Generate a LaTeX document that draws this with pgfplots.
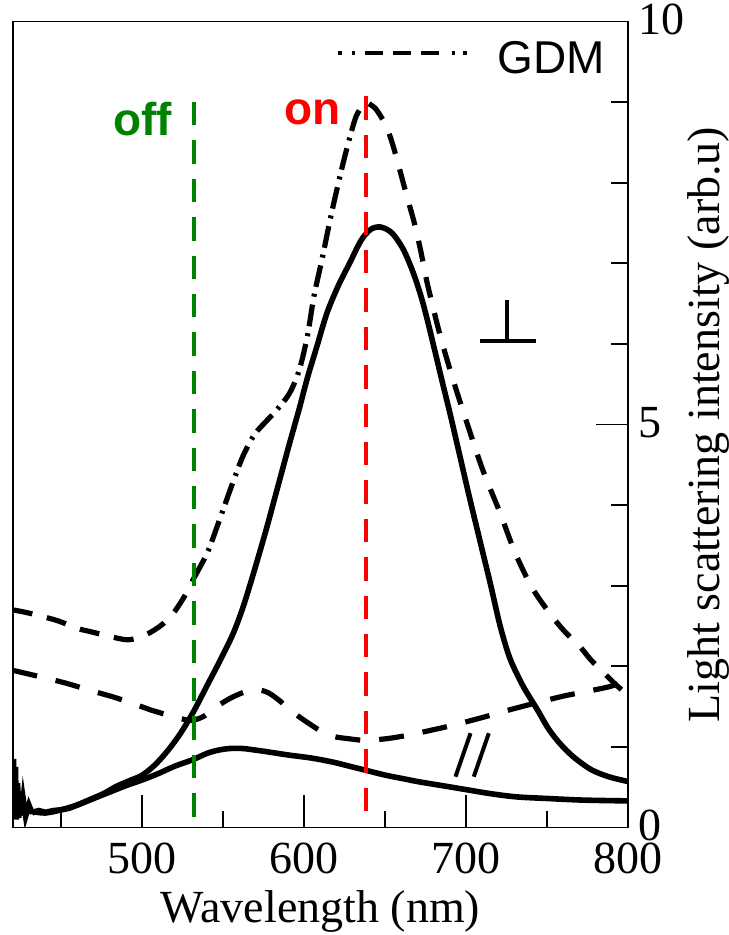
\documentclass[border=0pt]{standalone}
\usepackage{fontspec}
\setmainfont{Liberation Serif}
\newfontfamily\arialfont{Liberation Sans}
\usepackage{pgfplots}
\pgfplotsset{compat=1.18}

\definecolor{offgreen}{RGB}{0,130,0}
\definecolor{onred}{RGB}{255,0,0}

\begin{document}
\begin{tikzpicture}
\begin{axis}[
    scale only axis, width=307.7pt, height=403pt,
    xmin=420, xmax=800, ymin=0, ymax=10,
    axis line style={line width=0.9pt},
    every tick/.style={line width=0.9pt, black},
    tick align=inside,
    major tick length=16pt, minor tick length=8.5pt,
    xtick={500,600,700,800}, minor xtick={450,550,650,750},
    ytick={0,5,10}, minor ytick={1,2,3,4,6,7,8,9},
    xtick pos=left, ytick pos=right,
    yticklabel pos=right,
    tick label style={font=\fontsize{23}{23}\selectfont},
    /pgf/number format/assume math mode=true,
    xticklabel style={yshift=-4pt},
    yticklabel style={xshift=1.5pt, yshift=1pt},
    every axis x label/.style={at={(axis description cs:0.5,0)}, anchor=base,
        yshift=-47.25pt, font=\fontsize{23}{23}\selectfont},
    every axis y label/.style={at={(axis description cs:1,0.5)}, xshift=45.5pt,
        anchor=base, rotate=90, font=\fontsize{23}{23}\selectfont},
    xlabel={Wavelength (nm)},
    ylabel={Light scattering intensity (arb.u)},
]

% GDM, parallel (long dashes)
\addplot[black, line width=2.6pt, smooth, dash pattern=on 12.5pt off 9.5pt] coordinates {
 (420,1.95) (437,1.87) (453,1.79) (468,1.70) (482,1.62) (494,1.54) (505,1.46)
 (515,1.40) (524,1.35) (531,1.33) (538,1.38) (546,1.50) (554,1.60) (563,1.68)
 (571,1.71) (578,1.67) (585,1.57) (591,1.46) (600,1.33) (610,1.20) (618,1.13)
 (628,1.10) (638,1.08) (650,1.10) (660,1.13) (670,1.17) (690,1.26) (711,1.37)
 (725,1.45) (742,1.54) (760,1.63) (775,1.69) (789,1.75) (795,1.80) (800,1.85)
};

% GDM, perpendicular
\addplot[black, line width=2.6pt, smooth, dash pattern=on 10pt off 7.5pt] coordinates {
 (420,2.70) (430,2.66) (447,2.57) (460,2.47) (468,2.43) (480,2.37) (490,2.33)
 (497,2.35) (505,2.42) (513,2.53) (520,2.68) (527,2.90) (532,3.10)
};
\addplot[black, line width=2.6pt, smooth, dash pattern=on 11pt off 4pt on 1.5pt off 3.5pt] coordinates {
 (532,3.10) (540,3.40) (546,3.72) (552,4.06) (557,4.34) (562,4.60) (567,4.80)
 (571,4.92) (577,5.05) (583,5.18) (591,5.39) (597,5.68) (602,6.10) (606,6.59)
 (611,7.05) (616,7.54) (620,7.90) (624,8.24) (628,8.55) (632,8.82) (636,8.95)
 (640,8.98)
};
\addplot[black, line width=2.6pt, smooth, dash pattern=on 10.5pt off 8pt] coordinates {
 (640,8.98) (644,8.92) (648,8.80) (651,8.69) (655,8.45) (659,8.16) (663,7.86)
 (668,7.50) (672,7.15) (676,6.75) (684,6.10) (692,5.55) (700,5.05) (710,4.45)
 (721,3.90) (730,3.42) (740,3.00) (750,2.70) (760,2.45) (770,2.25) (777,2.08)
 (785,1.92) (792,1.78) (800,1.64)
};

% measured, parallel
\addplot[black, line width=2.8pt, smooth] coordinates {
 (424,0.18) (430,0.20) (440,0.18) (450,0.22) (460,0.28) (470,0.36) (480,0.44)
 (490,0.52) (500,0.59) (510,0.67) (520,0.76) (531,0.84) (540,0.92) (547,0.96)
 (554,0.98) (562,0.98) (570,0.96) (577,0.94) (590,0.90) (605,0.86) (618,0.81)
 (628,0.76) (638,0.71) (650,0.65) (660,0.61) (670,0.57) (685,0.52) (700,0.47)
 (715,0.42) (731,0.38) (750,0.36) (772,0.34) (800,0.33)
};

% measured, perpendicular: noisy start
\addplot[black, line width=2.8pt] coordinates {
 (420,0.10) (420.5,0.85) (421,0.15) (421.7,0.75) (422.3,0.10) (423,0.55)
 (423.8,0.12) (424.6,0.45) (425.5,0.15) (426.5,0.35) (428,0.14) (430,0.28)
 (432,0.18)
};
\addplot[black, line width=2.8pt, smooth] coordinates {
 (432,0.18) (436,0.21) (440,0.19) (445,0.21) (450,0.22) (455,0.24) (460,0.28)
 (468,0.35) (476,0.42) (484,0.51) (492,0.58) (500,0.65) (508,0.78) (516,0.96)
 (524,1.18) (532,1.45) (540,1.76) (548,2.07) (556,2.40) (562,2.72) (567,3.04)
 (572,3.38) (577,3.73) (584,4.25) (591,4.77) (597,5.20) (602,5.58) (608,5.98)
 (614,6.38) (621,6.72) (628,7.00) (635,7.28) (641,7.42) (647,7.45) (654,7.38)
 (661,7.18) (667,6.90) (672,6.60) (676,6.30) (680,5.97) (685,5.55) (690,5.14)
 (696,4.62) (702,4.10) (708,3.60) (715,3.02) (721,2.50) (727,2.10) (735,1.76)
 (744,1.46) (751,1.22) (758,1.04) (766,0.88) (777,0.72) (788,0.63) (800,0.57)
};

% excitation wavelengths
\addplot[offgreen, line width=2pt, dash pattern=on 11.7pt off 7.5pt] coordinates {(532,9.0) (532,0.13)};
\addplot[onred, line width=2pt, dash pattern=on 11.7pt off 7.5pt] coordinates {(638,9.07) (638,0.2)};

% polarisation marks
\addplot[black, line width=2pt] coordinates {(725.5,6.54) (725.5,6.04)};
\addplot[black, line width=2pt] coordinates {(708.8,6.04) (743.4,6.04)};
\addplot[black, line width=2pt] coordinates {(702.7,1.17) (693.4,0.63)};
\addplot[black, line width=2pt] coordinates {(714,1.17) (704.7,0.63)};

% legend
\addplot[black, line width=2pt, dash pattern=on 1.7pt off 5pt on 1.7pt off 5pt on 9pt off 5pt on 9pt off 5pt on 9pt off 6.5pt on 1.7pt off 4pt on 1.7pt off 50pt]
  coordinates {(621,9.61) (700.7,9.61)};
\node[anchor=base west, inner sep=0pt, font=\arialfont\fontsize{23}{23}\selectfont] at (axis cs:719.4,9.36) {GDM};

\node[anchor=base west, inner sep=0pt, text=offgreen, font=\arialfont\bfseries\fontsize{23}{23}\selectfont] at (axis cs:481.9,8.59) {off};
\node[anchor=base west, inner sep=0pt, text=onred, font=\arialfont\bfseries\fontsize{23}{23}\selectfont] at (axis cs:587.3,8.72) {on};

\end{axis}
\pgfresetboundingbox
\path[use as bounding box] ([shift={(-6.35pt,-53.75pt)}]current axis.south west) rectangle ([shift={(50.35pt,10.75pt)}]current axis.north east);
\end{tikzpicture}
\end{document}
